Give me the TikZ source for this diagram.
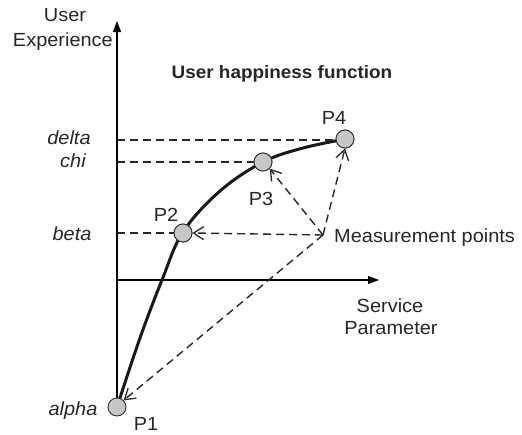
\documentclass[tikz,border=0pt]{standalone}
\usepackage{fontspec}
\setmainfont{Liberation Sans}[FakeStretch=1.05]
\usetikzlibrary{arrows.meta}
\begin{document}
\begin{tikzpicture}[x=1pt,y=-1pt,
    txt/.style={font=\fontsize{19}{21}\selectfont, text=black!85, inner sep=0pt},
    lbl/.style={txt, font=\fontsize{19}{21}\selectfont\itshape},
    axis/.style={line width=1.2pt, -{Triangle[length=11pt,width=8pt]}},
    guide/.style={line width=1.4pt, black!85, dash pattern=on 8pt off 5pt},
    probe/.style={line width=1.4pt, black!85, dash pattern=on 8pt off 5pt, -{Straight Barb[length=10pt,width=13pt,line width=1.3pt]}},
    pt/.style={circle, draw=black!80, line width=0.9pt, fill=black!22, minimum size=18pt, inner sep=0pt},
    curve/.style={line width=3pt, black!90}]
  \useasboundingbox (0,0) rectangle (522,434);

  % axes
  \coordinate (origin) at (117,280);
  \coordinate (ytop) at (117,21);
  \coordinate (ybot) at (117,407);
  \coordinate (xend) at (379,280);
  \draw[line width=1.2pt] (ybot) -- (origin);
  \draw[axis] (origin) -- (ytop);
  \draw[axis] (origin) -- (xend);

  % axis titles
  \node[txt] (ylab1) at (65,15) {User};
  \node[txt, anchor=east] (ylab2) at (113,42) {Experience};
  \node[txt] (xlab1) at (390,306) {Service};
  \node[txt] (xlab2) at (391,328) {Parameter};
  \node[txt, font=\fontsize{18}{20}\selectfont\bfseries] (title) at (282,74) {User happiness function};

  % the happiness curve
  \draw[curve] plot[smooth, tension=0.6] coordinates
    {(117,407) (140,338) (162,280) (183,232) (220,191) (263,162) (303,148) (346,139)};

  % guide lines to the value axis
  \coordinate (yd) at (117,140);
  \coordinate (yc) at (117,162);
  \coordinate (yb) at (117,233);

  % measurement points
  \node[pt] (p1) at (117,407) {};
  \node[pt] (p2) at (183,233) {};
  \node[pt] (p3) at (263,162) {};
  \node[pt] (p4) at (345,139) {};

  \draw[guide] (yd) -- (yd -| p4.west);
  \draw[guide] (yc) -- (p3.west);
  \draw[guide] (yb) -- (p2.west);
  \node[pt] at (p2) {};
  \node[pt] at (p3) {};
  \node[pt] at (p4) {};

  % value labels
  \node[lbl] (ld) at (69,138) {delta};
  \node[lbl] (lc) at (73,161) {chi};
  \node[lbl] (lb) at (72,234) {beta};
  \node[lbl] (la) at (73,411) {alpha};

  % point labels
  \node[txt] (n1) at (146,424) {P1};
  \node[txt] (n2) at (166,215) {P2};
  \node[txt] (n3) at (261,199) {P3};
  \node[txt] (n4) at (334,118) {P4};

  % measurement arrows
  \coordinate (hub) at (323,235);
  \node[txt, anchor=west] (meas) at (334,238) {Measurement points};
  \draw[probe] (hub) -- (p2.east);
  \draw[probe] (hub) -- (p3.south east);
  \draw[probe] (hub) -- (p4.south);
  \draw[probe] (hub) -- (p1.north east);
\end{tikzpicture}
\end{document}
